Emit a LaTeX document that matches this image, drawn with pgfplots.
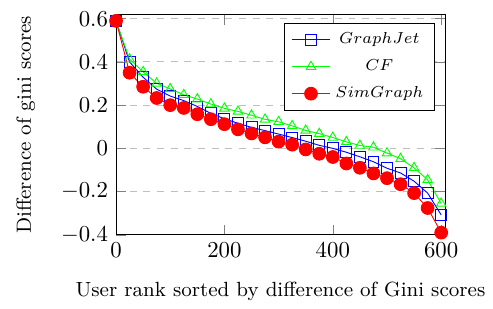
\documentclass[border=0pt]{standalone}
\usepackage{pgfplots}
\pgfplotsset{compat=1.18}
\begin{document}
\begin{tikzpicture}
\begin{axis}[
  scale only axis,
  width=144.3pt, height=96.5pt,
  xmin=0, xmax=607, ymin=-0.4, ymax=0.618,
  xtick={0,200,400,600},
  ytick={-0.4,-0.2,0,0.2,0.4,0.6},
  yticklabels={$-0.4$,$-0.2$,$0$,$0.2$,$0.4$,$0.6$},
  ymajorgrids, grid style={dashed, gray!50},
  xlabel={User rank sorted by difference of Gini scores},
  ylabel={Difference of gini scores},
  label style={font=\small},
  xlabel style={yshift=-4pt},
  ylabel style={yshift=4.5pt},
  legend style={font=\scriptsize, at={(0.97,0.963)}, anchor=north east, row sep=1.5pt, inner xsep=3pt},
  legend cell align=center,
]
\addplot[blue, mark=square, mark size=2.4pt] coordinates {
(0,0.59) (25,0.40) (50,0.329) (75,0.274) (100,0.242) (125,0.221) (150,0.194) (175,0.162) (200,0.137)
(225,0.116) (250,0.097) (275,0.082) (300,0.066) (325,0.05) (350,0.033) (375,0.014) (400,0.0)
(425,-0.018) (450,-0.039) (475,-0.062) (500,-0.092) (525,-0.114) (550,-0.152) (575,-0.207) (600,-0.308)};
\addlegendentry{$GraphJet$}
\addplot[green, mark=triangle, mark size=2.4pt] coordinates {
(0,0.59) (25,0.413) (50,0.354) (75,0.301) (100,0.275) (125,0.248) (150,0.228) (175,0.205) (200,0.185)
(225,0.171) (250,0.153) (275,0.134) (300,0.123) (325,0.104) (350,0.083) (375,0.068) (400,0.05)
(425,0.03) (450,0.013) (475,0.005) (500,-0.022) (525,-0.048) (550,-0.09) (575,-0.146) (600,-0.255)};
\addlegendentry{$CF$}
\addplot[red, mark=*, mark size=2.8pt] coordinates {
(0,0.59) (25,0.35) (50,0.285) (75,0.233) (100,0.2) (125,0.187) (150,0.158) (175,0.135) (200,0.112)
(225,0.088) (250,0.069) (275,0.051) (300,0.031) (325,0.017) (350,-0.005) (375,-0.025) (400,-0.04)
(425,-0.07) (450,-0.09) (475,-0.116) (500,-0.138) (525,-0.166) (550,-0.207) (575,-0.276) (600,-0.39)};
\addlegendentry{$SimGraph$}
\end{axis}
\path (-50.9pt,-30pt) rectangle (163.4pt,103pt);
\end{tikzpicture}
\end{document}
